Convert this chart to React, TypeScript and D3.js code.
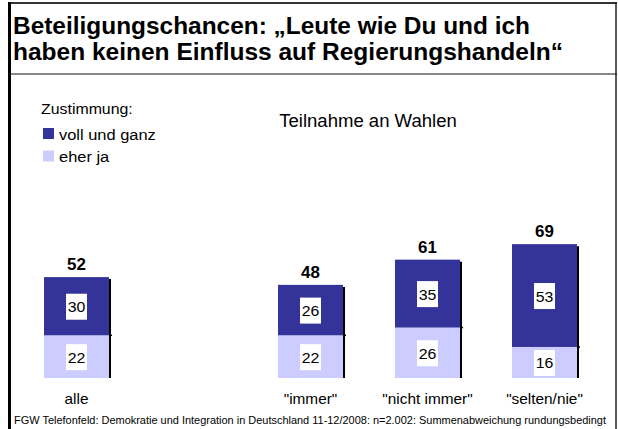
import React, { useEffect, useRef } from "react";
import * as d3 from "d3";

// categories (empty slot keeps the gap after "alle")
const categories = ["alle", "", '"immer"', '"nicht immer"', '"selten/nie"'];
const vollUndGanz = [30, null, 26, 35, 53];
const eherJa = [22, null, 22, 26, 16];
const totals = [52, null, 48, 61, 69];

const titleLines = [
  "Beteiligungschancen: \u201ELeute wie Du und ich",
  "haben keinen Einfluss auf Regierungshandeln\u201C",
];
const legendTitle = "Zustimmung:";
const legendLabels = ["voll und ganz", "eher ja"];
const subTitle = "Teilnahme an Wahlen";
const footer =
  "FGW Telefonfeld: Demokratie und Integration in Deutschland 11-12/2008: n=2.002: Summenabweichung rundungsbedingt";

const DARK = "#333399";
const LIGHT = "#ccccff";
const FONT = "'Liberation Sans', Arial, sans-serif";
const SX = 1.06; // the slide is a bit stretched horizontally

const App = () => {
  const ref = useRef<SVGSVGElement>(null);

  useEffect(() => {
    const width = 618;
    const height = 429;
    const svg = d3.select(ref.current);
    svg.selectAll("*").remove();

    svg.append("rect").attr("width", width).attr("height", height).attr("fill", "#fff");

    // text with a slight horizontal stretch
    const label = (parent: any, x: number, y: number, txt: string | number, size: number, anchor = "start", bold = false) =>
      parent.append("text")
        .attr("transform", `translate(${x},${y}) scale(${SX},1)`)
        .attr("text-anchor", anchor)
        .attr("font-family", FONT)
        .attr("font-size", size)
        .attr("font-weight", bold ? "bold" : "normal")
        .text(txt);

    // frame
    svg.append("line").attr("x1", 9).attr("x2", 617).attr("y1", 3).attr("y2", 3)
      .attr("stroke", "#333").attr("stroke-width", 2);
    svg.append("line").attr("x1", 9.5).attr("x2", 9.5).attr("y1", 2).attr("y2", height)
      .attr("stroke", "#000").attr("stroke-width", 3);
    svg.append("line").attr("x1", 616).attr("x2", 616).attr("y1", 2).attr("y2", height)
      .attr("stroke", "#222").attr("stroke-width", 1.5);
    svg.append("line").attr("x1", 9).attr("x2", 617).attr("y1", 74).attr("y2", 74)
      .attr("stroke", "#111").attr("stroke-width", 1.2);

    // title
    const titleWidths = [517, 550];
    titleLines.forEach((t, i) => {
      svg.append("text")
        .attr("x", 13)
        .attr("y", 34 + i * 26)
        .attr("font-family", FONT)
        .attr("font-weight", "bold")
        .attr("font-size", 23.5)
        .attr("textLength", titleWidths[i])
        .attr("lengthAdjust", "spacingAndGlyphs")
        .text(t);
    });

    // legend
    label(svg, 41, 114, legendTitle, 15);
    [DARK, LIGHT].forEach((c, i) => {
      svg.append("rect").attr("x", 43).attr("y", 128 + i * 22.5).attr("width", 11).attr("height", 11).attr("fill", c);
      label(svg, 59, 139.5 + i * 22.5, legendLabels[i], 15.5);
    });

    label(svg, 368, 127, subTitle, 17.5, "middle");

    // scales
    const x = d3.scaleBand<string>()
      .domain(categories)
      .range([18, 603])
      .paddingInner(1 - 65 / 117)
      .paddingOuter((1 - 65 / 117) / 2);
    const y = d3.scaleLinear().domain([0, 100]).range([378, 184]);

    const g = svg.append("g");
    categories.forEach((cat, i) => {
      const v = vollUndGanz[i];
      const e = eherJa[i];
      const tot = totals[i];
      if (v == null || e == null || tot == null) return;
      const x0 = x(cat)!;
      const bw = x.bandwidth();
      const cx = x0 + bw / 2;

      // shadow line on the right
      g.append("line").attr("x1", x0 + bw + 1).attr("x2", x0 + bw + 1)
        .attr("y1", y(e + v) + 2).attr("y2", y(0))
        .attr("stroke", "#000").attr("stroke-width", 2);
      g.append("line").attr("x1", x0 + bw).attr("x2", x0 + bw + 3)
        .attr("y1", y(e)).attr("y2", y(e))
        .attr("stroke", "#000").attr("stroke-width", 1.5);

      g.append("rect").attr("x", x0).attr("y", y(e)).attr("width", bw)
        .attr("height", y(0) - y(e)).attr("fill", LIGHT);
      g.append("rect").attr("x", x0).attr("y", y(e + v)).attr("width", bw)
        .attr("height", y(e) - y(e + v)).attr("fill", DARK);

      const segs = [
        { val: v, mid: (y(e) + y(e + v)) / 2 },
        { val: e, mid: (y(0) + y(e)) / 2 },
      ];
      segs.forEach((s) => {
        g.append("rect").attr("x", cx - 10.5).attr("y", s.mid - 12.5)
          .attr("width", 21).attr("height", 26).attr("fill", "#fff");
        label(g, cx, s.mid + 6, s.val, 15, "middle");
      });

      label(g, cx, y(tot) - 7, tot, 16, "middle", true);
      label(g, cx, 404, cat, 14.5, "middle");
    });

    svg.append("text").attr("x", 14).attr("y", 423.5)
      .attr("font-family", FONT).attr("font-size", 11)
      .attr("textLength", 592).attr("lengthAdjust", "spacingAndGlyphs")
      .text(footer);
  }, []);

  return (
    <svg
      ref={ref}
      width={618}
      height={429}
      style={{ position: "absolute", left: 0, top: 0 }}
    />
  );
};

export default App;
